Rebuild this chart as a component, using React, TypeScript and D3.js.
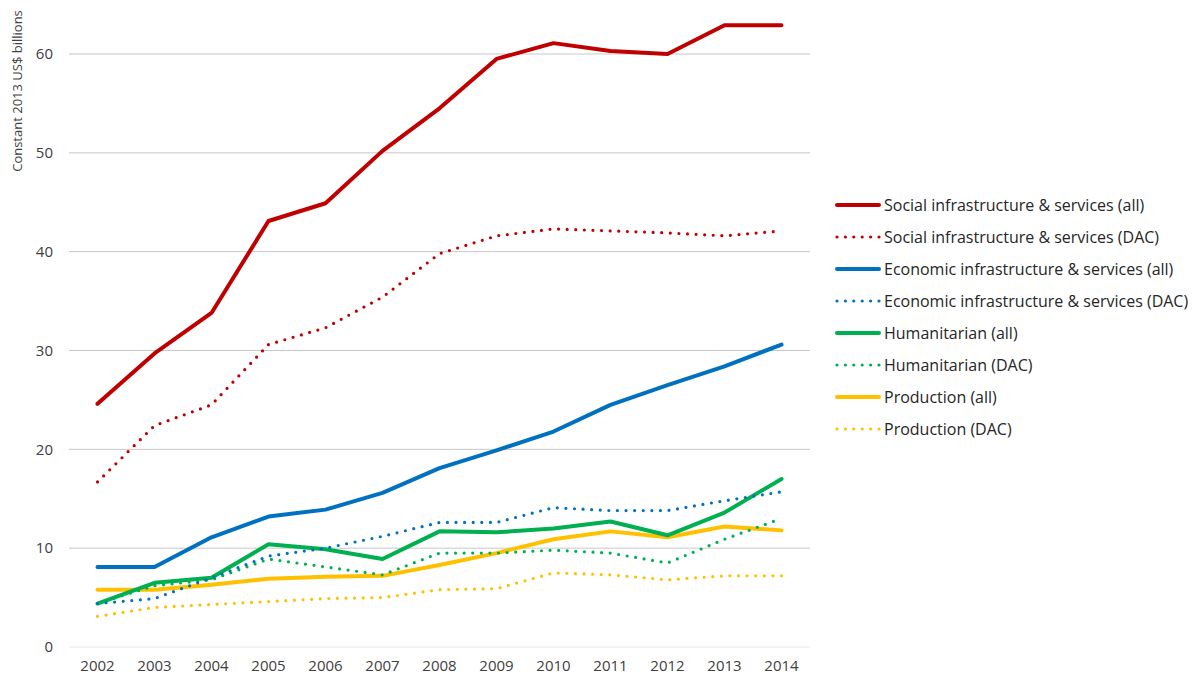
import React from "react";
import * as d3 from "d3";

const years = ["2002", "2003", "2004", "2005", "2006", "2007", "2008", "2009", "2010", "2011", "2012", "2013", "2014"];

const socialAll = [24.6, 29.7, 33.8, 43.1, 44.9, 50.2, 54.5, 59.5, 61.1, 60.3, 60.0, 62.9, 62.9];
const socialDAC = [16.7, 22.4, 24.5, 30.6, 32.3, 35.4, 39.8, 41.6, 42.3, 42.1, 41.9, 41.6, 42.1];
const economicAll = [8.1, 8.1, 11.1, 13.2, 13.9, 15.6, 18.1, 19.9, 21.8, 24.5, 26.5, 28.4, 30.6];
const economicDAC = [4.4, 4.9, 7.0, 9.2, 10.0, 11.2, 12.6, 12.6, 14.1, 13.8, 13.8, 14.8, 15.7];
const humanitarianAll = [4.4, 6.5, 7.0, 10.4, 9.9, 8.9, 11.7, 11.6, 12.0, 12.7, 11.3, 13.6, 17.0];
const humanitarianDAC = [4.4, 6.2, 6.8, 8.9, 8.1, 7.3, 9.5, 9.5, 9.8, 9.5, 8.5, 10.9, 13.0];
const productionAll = [5.8, 5.8, 6.3, 6.9, 7.1, 7.2, 8.3, 9.5, 10.9, 11.7, 11.1, 12.2, 11.8];
const productionDAC = [3.1, 4.0, 4.3, 4.6, 4.9, 5.0, 5.8, 5.9, 7.5, 7.3, 6.8, 7.2, 7.2];

const yTicks = [0, 10, 20, 30, 40, 50, 60];

const series = [
  { name: "Social infrastructure & services (all)", values: socialAll, color: "#C00000", dotted: false },
  { name: "Social infrastructure & services (DAC)", values: socialDAC, color: "#C00000", dotted: true },
  { name: "Economic infrastructure & services (all)", values: economicAll, color: "#0070C0", dotted: false },
  { name: "Economic infrastructure & services (DAC)", values: economicDAC, color: "#0070C0", dotted: true },
  { name: "Humanitarian (all)", values: humanitarianAll, color: "#00B050", dotted: false },
  { name: "Humanitarian (DAC)", values: humanitarianDAC, color: "#00B050", dotted: true },
  { name: "Production (all)", values: productionAll, color: "#FFC000", dotted: false },
  { name: "Production (DAC)", values: productionDAC, color: "#FFC000", dotted: true },
];

const W = 1194;
const H = 682;
const font = "'Open Sans', 'Liberation Sans', sans-serif";

export default function App() {
  const x = d3.scaleBand<string>().domain(years).range([69, 810]);
  const y = d3.scaleLinear().domain([0, 60]).range([647, 54]);
  const cx = (yr: string) => (x(yr) as number) + x.bandwidth() / 2;

  const line = d3
    .line<number>()
    .x((_, i) => cx(years[i]))
    .y((d) => y(d));

  return (
    <svg width={W} height={H} style={{ position: "absolute", left: 0, top: 0, background: "#fff" }}>
      {yTicks.map((t) => (
        <g key={t}>
          <line x1={69} x2={810} y1={y(t)} y2={y(t)} stroke={t === 0 ? "#e8e8e8" : "#c8c8c8"} strokeWidth={1} />
          <text x={53} y={y(t)} dy="0.35em" textAnchor="end" fontFamily={font} fontSize={15} fill="#404040">
            {t}
          </text>
        </g>
      ))}
      {years.map((yr) => (
        <text key={yr} x={cx(yr)} y={671} textAnchor="middle" fontFamily={font} fontSize={15} fill="#404040">
          {yr}
        </text>
      ))}
      <text
        transform={`translate(22,${91}) rotate(-90)`}
        textAnchor="middle"
        fontFamily={font}
        fontSize={13}
        fill="#404040"
      >
        Constant 2013 US$ billions
      </text>

      {series
        .slice()
        .reverse()
        .map((s) => (
          <path
            key={s.name}
            d={line(s.values) || ""}
            fill="none"
            stroke={s.color}
            strokeWidth={s.dotted ? 3.2 : 4}
            strokeDasharray={s.dotted ? "0 8.6" : undefined}
            strokeLinecap="round"
            strokeLinejoin="round"
          />
        ))}

      {series.map((s, i) => {
        const ly = 205 + i * 32;
        return (
          <g key={s.name}>
            <line
              x1={837}
              x2={879}
              y1={ly}
              y2={ly}
              stroke={s.color}
              strokeWidth={s.dotted ? 3.2 : 4}
              strokeDasharray={s.dotted ? "0 8.4" : undefined}
              strokeLinecap="round"
            />
            <text x={884} y={ly} dy="0.35em" fontFamily={font} fontSize={16} fill="#262626">
              {s.name}
            </text>
          </g>
        );
      })}
    </svg>
  );
}
